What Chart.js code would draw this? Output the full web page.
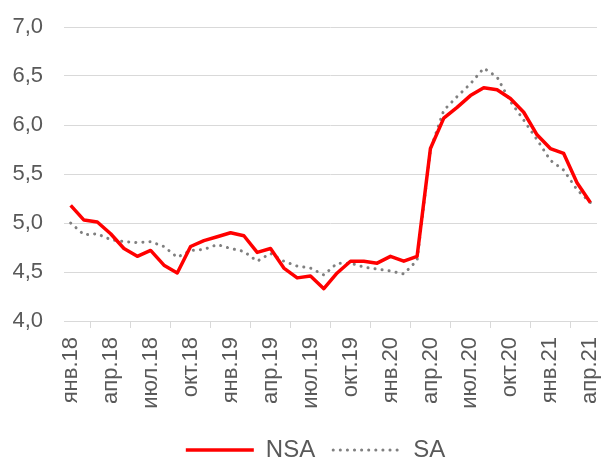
<!DOCTYPE html>
<html>
<head>
<meta charset="utf-8">
<script src="https://cdn.jsdelivr.net/npm/chart.js@4"></script>
<style>
  html, body { margin: 0; padding: 0; background: #fff; }
  #wrap { width: 602px; height: 461px; position: relative; }
</style>
</head>
<body>
<div id="wrap"><canvas id="chart"></canvas></div>
<script>
// ─── DATA ────────────────────────────────────────────────
const months = [
  'янв.18','фев.18','мар.18','апр.18','май.18','июн.18','июл.18','авг.18','сен.18','окт.18','ноя.18','дек.18',
  'янв.19','фев.19','мар.19','апр.19','май.19','июн.19','июл.19','авг.19','сен.19','окт.19','ноя.19','дек.19',
  'янв.20','фев.20','мар.20','апр.20','май.20','июн.20','июл.20','авг.20','сен.20','окт.20','ноя.20','дек.20',
  'янв.21','фев.21','мар.21','апр.21'
];

const nsa = [
  5.18, 5.03, 5.01, 4.89, 4.74, 4.66, 4.72, 4.57, 4.49, 4.76, 4.82, 4.86,
  4.90, 4.87, 4.70, 4.74, 4.54, 4.44, 4.46, 4.33, 4.49, 4.61, 4.61, 4.59,
  4.66, 4.61, 4.66, 5.76, 6.07, 6.18, 6.30, 6.38, 6.36, 6.27, 6.13, 5.90,
  5.76, 5.71, 5.41, 5.21
];

const sa = [
  5.00, 4.88, 4.89, 4.83, 4.81, 4.80, 4.81, 4.76, 4.65, 4.72, 4.73, 4.78,
  4.74, 4.71, 4.61, 4.69, 4.61, 4.56, 4.54, 4.47, 4.59, 4.59, 4.55, 4.53,
  4.51, 4.48, 4.62, 5.75, 6.15, 6.29, 6.42, 6.58, 6.49, 6.24, 6.05, 5.85,
  5.64, 5.54, 5.34, 5.21
];

// ─── DEFAULTS ────────────────────────────────────────────
Chart.defaults.color       = '#595959';
Chart.defaults.font.family = "'Liberation Sans', Arial, sans-serif";
Chart.defaults.font.size   = 22;

const gridColor = '#d9d9d9';

// legend samples: keep the dataset's own dash / cap
function legendLabels(chart) {
  const items = Chart.defaults.plugins.legend.labels.generateLabels(chart);
  items.forEach(it => {
    const ds = chart.data.datasets[it.datasetIndex];
    it.lineDash    = ds.borderDash || [];
    it.lineCap     = ds.borderCapStyle || 'butt';
    it.lineWidth   = ds.borderWidth;
    it.strokeStyle = ds.borderColor;
  });
  return items;
}

// legend sits low and slightly right of centre, like the original
const legendPlace = {
  id: 'legendPlace',
  beforeUpdate(chart) {
    const lg = chart.legend;
    if (!lg || lg._patched) return;
    const fit = lg.fit;
    lg.fit = function () { fit.call(this); this.height = 41; };
    lg._patched = true;
  },
  afterLayout(chart) {
    const lg = chart.legend;
    if (!lg) return;
    lg.left += 12;
    lg.right += 12;
  }
};

new Chart(document.getElementById('chart').getContext('2d'), {
  type: 'line',
  data: {
    labels: months,
    datasets: [
      {
        label: 'NSA',
        data: nsa,
        borderColor: '#ff0000',
        backgroundColor: '#ff0000',
        borderWidth: 3.5,
        pointRadius: 0,
        tension: 0,
        borderJoinStyle: 'round'
      },
      {
        label: 'SA',
        data: sa,
        borderColor: '#808080',
        backgroundColor: '#808080',
        borderWidth: 3,
        borderDash: [0.1, 7],
        borderCapStyle: 'round',
        pointRadius: 0,
        tension: 0
      }
    ]
  },
  plugins: [legendPlace],
  options: {
    responsive: true,
    maintainAspectRatio: false,
    animation: false,
    layout: { padding: { left: 10, right: 5, top: 27, bottom: 0 } },
    plugins: {
      tooltip: { enabled: false },
      legend: {
        position: 'bottom',
        labels: {
          usePointStyle: true,
          pointStyle: 'line',
          pointStyleWidth: 68,
          padding: 18,
          font: { size: 24 },
          generateLabels: legendLabels
        }
      }
    },
    scales: {
      x: {
        offset: true,
        afterFit: s => { s.paddingLeft = 0; s.paddingRight = 0; s.height = 99; },
        grid: {
          display: true,
          offset: true,
          drawOnChartArea: false,
          color: gridColor,
          tickLength: 7
        },
        border: { display: true, color: gridColor },
        ticks: {
          autoSkip: false,
          minRotation: 90,
          maxRotation: 90,
          padding: 9,
          callback: (val, i) => i % 3 === 0 ? months[i] : null
        }
      },
      y: {
        min: 4,
        max: 7,
        afterFit: s => { s.width = 54; s.paddingTop = 0; s.paddingBottom = 0; },
        grid: { color: gridColor, drawTicks: false },
        border: { display: false },
        ticks: {
          stepSize: 0.5,
          padding: 21,
          callback: v => v.toFixed(1).replace('.', ',')
        }
      }
    }
  }
});
</script>
</body>
</html>
